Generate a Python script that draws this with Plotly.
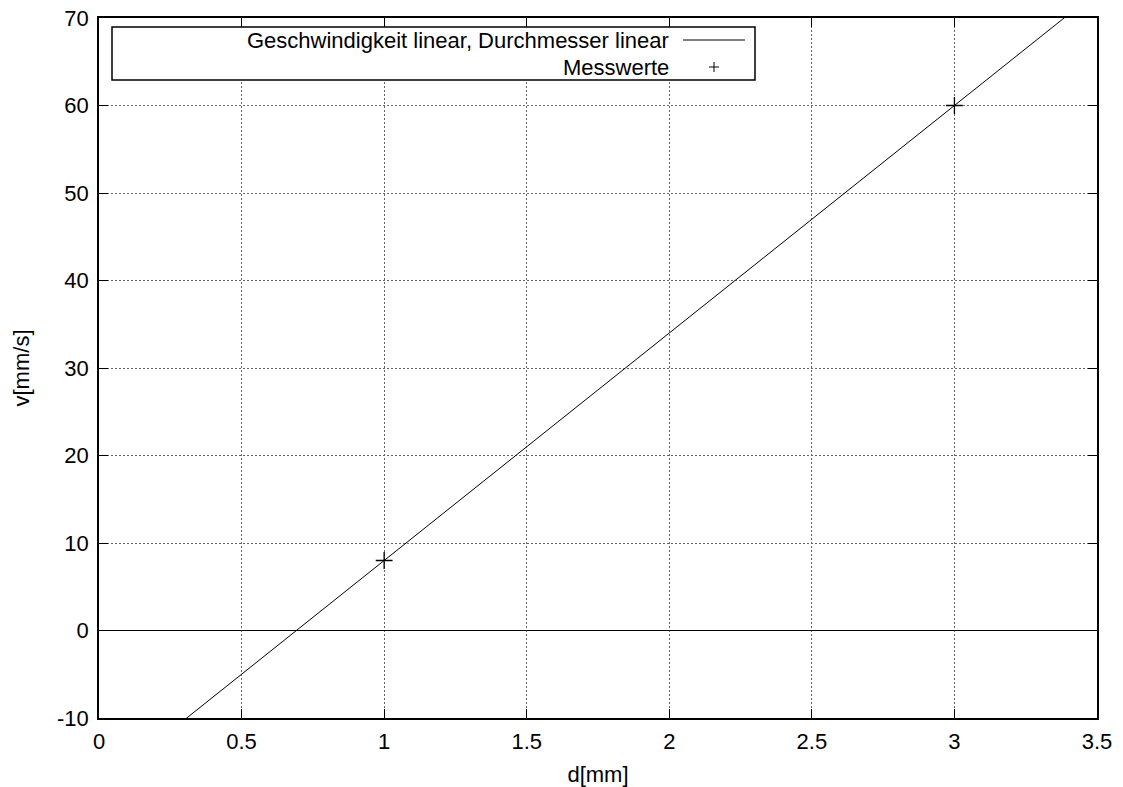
import plotly.graph_objects as go

# Fit line (endpoints extended beyond the visible range)
line_d = [0.30, 3.40]
line_v = [-10.2, 70.4]
line_name = "Geschwindigkeit linear, Durchmesser linear"

# Measured values
mess_d = [1.0, 3.0]
mess_v = [8.0, 60.0]
mess_name = "Messwerte"

x_ticks = [0, 0.5, 1, 1.5, 2, 2.5, 3, 3.5]
x_ticktext = ["0", "0.5", "1", "1.5", "2", "2.5", "3", "3.5"]
y_ticks = [-10, 0, 10, 20, 30, 40, 50, 60, 70]
y_ticktext = ["-10", "0", "10", "20", "30", "40", "50", "60", "70"]

FONT = "Liberation Sans, Arial, Helvetica, sans-serif"
FS = 22

fig = go.Figure()
fig.add_trace(go.Scatter(x=line_d, y=line_v, mode="lines", name=line_name,
                         line=dict(color="black", width=1), showlegend=False))
fig.add_trace(go.Scatter(x=mess_d, y=mess_v, mode="markers", name=mess_name,
                         marker=dict(symbol="cross-thin", size=12,
                                     line=dict(color="black", width=1.3)),
                         showlegend=False))

axis_common = dict(showline=True, linecolor="black", linewidth=1.5, mirror="allticks",
                   ticks="inside", ticklen=9, tickcolor="black", tickwidth=1.2,
                   showgrid=True, gridcolor="#666666", griddash="2px,2px", gridwidth=1,
                   ticklabeloverflow="allow",
                   tickfont=dict(family=FONT, size=FS, color="black"))

fig.update_xaxes(range=[0, 3.5], tickvals=x_ticks, ticktext=x_ticktext,
                 zeroline=False, ticklabelstandoff=3,
                 title=dict(text="d[mm]", font=dict(family=FONT, size=FS, color="black"), standoff=13),
                 **axis_common)
fig.update_yaxes(range=[-10, 70], tickvals=y_ticks, ticktext=y_ticktext,
                 zeroline=True, zerolinecolor="black", zerolinewidth=1.3,
                 ticklabelstandoff=4,
                 title=dict(text="v[mm/s]", font=dict(family=FONT, size=FS, color="black"), standoff=21),
                 **axis_common)

# Page offset (body margin) and target plot-area geometry in screenshot pixels
OFF = 8
W, H = 1123, 787
ml, mr, mt, mb = 99 - OFF, W - 1097 + OFF, 18 - OFF, H - 718 + OFF
pw, ph = W - ml - mr, H - mt - mb

def px(x):
    return (x - OFF - ml) / pw

def py(y):
    return 1 - (y - OFF - mt) / ph

# Manual gnuplot-style legend (text right-aligned, sample to the right)
fig.add_shape(type="rect", xref="paper", yref="paper",
              x0=px(112), x1=px(755), y0=py(27), y1=py(80),
              line=dict(color="black", width=1.5), fillcolor="white", layer="above")
fig.add_shape(type="line", xref="paper", yref="paper",
              x0=px(683), x1=px(745), y0=py(40), y1=py(40),
              line=dict(color="black", width=1), layer="above")
fig.add_annotation(xref="paper", yref="paper", x=px(671), y=py(40),
                   text=line_name, showarrow=False, xanchor="right", yanchor="middle",
                   font=dict(family=FONT, size=FS, color="black"))
fig.add_annotation(xref="paper", yref="paper", x=px(671), y=py(67),
                   text=mess_name, showarrow=False, xanchor="right", yanchor="middle",
                   font=dict(family=FONT, size=FS, color="black"))
fig.add_shape(type="line", xref="paper", yref="paper",
              x0=px(709), x1=px(719), y0=py(67), y1=py(67),
              line=dict(color="black", width=1), layer="above")
fig.add_shape(type="line", xref="paper", yref="paper",
              x0=px(714), x1=px(714), y0=py(62), y1=py(72),
              line=dict(color="black", width=1), layer="above")

fig.update_layout(width=W, height=H, plot_bgcolor="white", paper_bgcolor="white",
                  margin=dict(l=ml, r=mr, t=mt, b=mb, autoexpand=False),
                  showlegend=False)

fig.write_html("out.html")
